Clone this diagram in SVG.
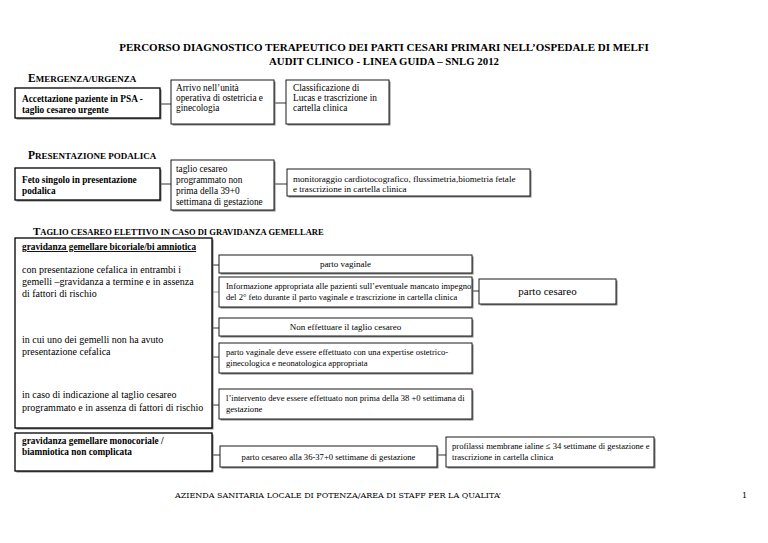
<svg xmlns="http://www.w3.org/2000/svg" width="768" height="543" viewBox="0 0 768 543">
<style>
text{font-family:"Liberation Serif","Times New Roman",serif;fill:#000}
.t{font-size:9.3px}
.s{font-size:8.6px}
.m{font-size:9px}
.b{font-size:10px}
.bold{font-weight:bold}
.title{font-size:11px;font-weight:bold}
.title2{font-size:10.8px;font-weight:bold}
.hd{font-size:9px;font-weight:bold}
.hdc{font-size:11.5px;font-weight:bold}
.box{fill:#fff;stroke:#1a1a1a;stroke-width:1}
.shadow{fill:#808080}
.thick{fill:#fff;stroke:#000;stroke-width:1.3}
.con{stroke:#333;stroke-width:1;fill:none}
.foot{font-family:"DejaVu Serif","Liberation Serif",serif;font-size:8px}
</style>

<g id="title">
<text class="title" x="384" y="51" text-anchor="middle">PERCORSO DIAGNOSTICO TERAPEUTICO DEI PARTI CESARI PRIMARI NELL’OSPEDALE DI MELFI</text>
<text class="title2" x="384" y="65" text-anchor="middle">AUDIT CLINICO - LINEA GUIDA – SNLG 2012</text>
</g>

<g id="headings">
<text x="28" y="82" class="hd"><tspan class="hdc">E</tspan>MERGENZA/URGENZA</text>
<text x="28" y="159" class="hd"><tspan class="hdc">P</tspan>RESENTAZIONE PODALICA</text>
<text x="33" y="235" class="hd" style="font-size:8.5px"><tspan class="hdc" style="font-size:11px">T</tspan>AGLIO CESAREO ELETTIVO IN CASO DI GRAVIDANZA GEMELLARE</text>
</g>

<g id="connectors">
<line class="con" x1="160" y1="104" x2="171" y2="104"/>
<line class="con" x1="274" y1="103" x2="286" y2="103"/>
<line class="con" x1="160" y1="184" x2="171" y2="184"/>
<line class="con" x1="274" y1="184" x2="287" y2="184"/>
<line class="con" x1="212" y1="265" x2="219" y2="265"/>
<line class="con" x1="212" y1="292" x2="219" y2="292" style="stroke:#999"/>
<line class="con" x1="472" y1="291" x2="479" y2="291"/>
<line class="con" x1="212" y1="328" x2="219" y2="328"/>
<line class="con" x1="212" y1="357" x2="219" y2="357"/>
<line class="con" x1="212" y1="405" x2="219" y2="405"/>
<line class="con" x1="212" y1="455" x2="220" y2="455"/>
<line class="con" x1="437" y1="455" x2="446" y2="455"/>
</g>

<g id="n-accettazione">
<rect class="shadow" x="16.5" y="89.5" width="145" height="30"/>
<rect class="thick" x="15" y="88" width="145" height="30"/>
<text class="t bold" x="22" y="102">Accettazione paziente  in PSA -</text>
<text class="t bold" x="22" y="112.5">taglio cesareo  urgente</text>
</g>

<g id="n-arrivo">
<rect class="shadow" x="172.5" y="81.5" width="103" height="44"/>
<rect class="box" x="171" y="80" width="103" height="44"/>
<text class="t" x="176" y="90.5">Arrivo nell’unità</text>
<text class="t" x="176" y="100.5">operativa di ostetricia e</text>
<text class="t" x="176" y="110.5">ginecologia</text>
</g>

<g id="n-classificazione">
<rect class="shadow" x="287.5" y="81.5" width="103" height="44"/>
<rect class="box" x="286" y="80" width="103" height="44"/>
<text class="t" x="293" y="90.5">Classificazione di</text>
<text class="t" x="293" y="100.5">Lucas e trascrizione in</text>
<text class="t" x="293" y="110.5">cartella clinica</text>
</g>

<g id="n-feto">
<rect class="shadow" x="16.5" y="169.5" width="145" height="32"/>
<rect class="thick" x="15" y="168" width="145" height="32"/>
<text class="t bold" x="22" y="183">Feto singolo in presentazione</text>
<text class="t bold" x="22" y="194">podalica</text>
</g>

<g id="n-taglio-programmato">
<rect class="shadow" x="172.5" y="161.5" width="103" height="50"/>
<rect class="box" x="171" y="160" width="103" height="50"/>
<text class="t" x="176" y="172">taglio cesareo</text>
<text class="t" x="176" y="183">programmato non</text>
<text class="t" x="176" y="194">prima della 39+0</text>
<text class="t" x="176" y="205">settimana di gestazione</text>
</g>

<g id="n-monitoraggio">
<rect class="shadow" x="288.5" y="170.5" width="243" height="27"/>
<rect class="box" x="287" y="169" width="243" height="27"/>
<text class="t" x="293" y="182" style="font-size:9.1px">monitoraggio cardiotocografico, flussimetria,biometria fetale</text>
<text class="t" x="293" y="192" style="font-size:9.1px">e trascrizione in cartella clinica</text>
</g>

<g id="n-bicoriale">
<rect class="shadow" x="16.5" y="239.5" width="197" height="190"/>
<rect class="thick" x="15" y="238" width="197" height="190"/>
<text class="t bold" x="22" y="250" text-decoration="underline">gravidanza gemellare bicoriale/bi amniotica</text>
<text class="b" x="22" y="273">con presentazione cefalica in entrambi  i</text>
<text class="b" x="22" y="285">gemelli –gravidanza  a  termine e in assenza</text>
<text class="b" x="22" y="297">di fattori di rischio</text>
<text class="b" x="22" y="343">in cui uno dei gemelli non ha  avuto</text>
<text class="b" x="22" y="355">presentazione cefalica</text>
<text class="b" x="22" y="398">in caso di indicazione al taglio cesareo</text>
<text class="b" x="22" y="411">programmato e in assenza di fattori di rischio</text>
</g>

<g id="n-parto-vaginale">
<rect class="shadow" x="220.5" y="256.5" width="253" height="18"/>
<rect class="box" x="219" y="255" width="253" height="18"/>
<text class="m" x="345.5" y="267" text-anchor="middle">parto vaginale</text>
</g>

<g id="n-informazione">
<rect class="shadow" x="220.5" y="278.5" width="253" height="30"/>
<rect class="box" x="219" y="277" width="253" height="30"/>
<text class="s" x="226" y="289">Informazione appropriata alle pazienti sull’eventuale mancato impegno</text>
<text class="s" x="226" y="300">del 2° feto durante il parto vaginale e  trascrizione in cartella clinica</text>
</g>

<g id="n-parto-cesareo">
<rect class="shadow" x="480.5" y="280.5" width="137" height="25"/>
<rect class="box" x="479" y="279" width="137" height="25"/>
<text x="547.5" y="295" style="font-size:11px" text-anchor="middle">parto cesareo</text>
</g>

<g id="n-non-effettuare">
<rect class="shadow" x="220.5" y="319.5" width="253" height="18"/>
<rect class="box" x="219" y="318" width="253" height="18"/>
<text class="m" x="345.5" y="330" text-anchor="middle">Non effettuare il  taglio cesareo</text>
</g>

<g id="n-parto-vaginale-expertise">
<rect class="shadow" x="220.5" y="344.5" width="253" height="30"/>
<rect class="box" x="219" y="343" width="253" height="30"/>
<text class="s" x="226" y="355">parto vaginale deve essere effettuato con una expertise ostetrico-</text>
<text class="s" x="226" y="366">ginecologica e neonatologica appropriata</text>
</g>

<g id="n-intervento">
<rect class="shadow" x="220.5" y="390.5" width="253" height="30"/>
<rect class="box" x="219" y="389" width="253" height="30"/>
<text class="s" x="226" y="401">l’intervento deve essere effettuato non prima della 38 +0 settimana di</text>
<text class="s" x="226" y="412">gestazione</text>
</g>

<g id="n-monocoriale">
<rect class="shadow" x="16.5" y="434.5" width="197" height="38"/>
<rect class="thick" x="15" y="433" width="197" height="38"/>
<text class="t bold" x="22" y="444">gravidanza gemellare monocoriale  /</text>
<text class="t bold" x="22" y="455">biamniotica non complicata</text>
</g>

<g id="n-parto-cesareo-36">
<rect class="shadow" x="221.5" y="447.5" width="217" height="21"/>
<rect class="box" x="220" y="446" width="217" height="21"/>
<text class="s" x="328.5" y="460" text-anchor="middle">parto cesareo alla 36-37+0  settimane di gestazione</text>
</g>

<g id="n-profilassi">
<rect class="shadow" x="447.5" y="438.5" width="208" height="30"/>
<rect class="box" x="446" y="437" width="208" height="30"/>
<text class="s" x="452" y="449">profilassi membrane ialine ≤ 34 settimane di gestazione e</text>
<text class="s" x="452" y="460">trascrizione in cartella clinica</text>
</g>

<g id="footer">
<text class="foot" x="175" y="498">AZIENDA SANITARIA LOCALE DI POTENZA/AREA DI STAFF PER LA QUALITA’</text>
<text class="foot" x="742" y="498">1</text>
</g>
</svg>
